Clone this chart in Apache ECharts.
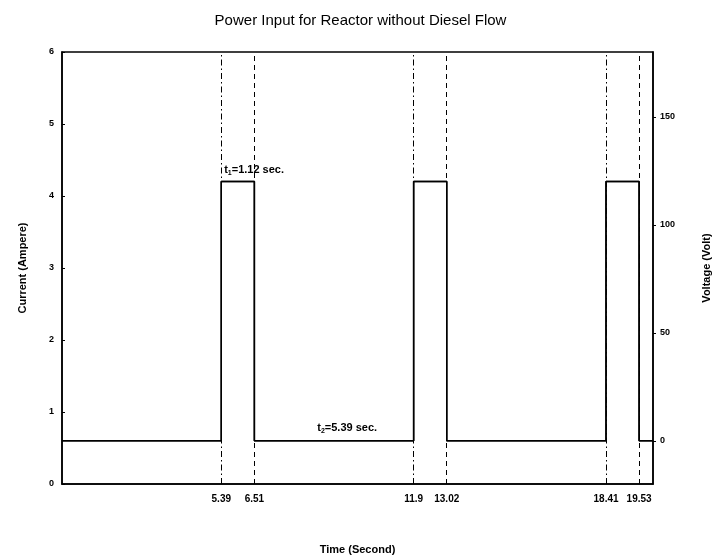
<!DOCTYPE html>
<html>
<head>
<meta charset="utf-8">
<script src="https://cdn.jsdelivr.net/npm/echarts@6/dist/echarts.min.js"></script>
<style>html,body{margin:0;padding:0;background:#fff}#c{width:721px;height:560px}</style>
</head>
<body>
<div id="c"></div>
<script>
// Data
const timePoints = [0, 5.39, 5.39, 6.51, 6.51, 11.9, 11.9, 13.02, 13.02, 18.41, 18.41, 19.53, 19.53, 20];
const currentValues = [0.6, 0.6, 4.2, 4.2, 0.6, 0.6, 4.2, 4.2, 0.6, 0.6, 4.2, 4.2, 0.6, 0.6];
const voltageValues = [0, 0, 120, 120, 0, 0, 120, 120, 0, 0, 120, 120, 0, 0];
const onTimes = [5.39, 11.9, 18.41];
const offTimes = [6.51, 13.02, 19.53];
const xTickLabels = [5.39, 6.51, 11.9, 13.02, 18.41, 19.53];
const currentTicks = [0, 1, 2, 3, 4, 5, 6];
const voltageTicks = [0, 50, 100, 150];
const annotations = [
  { name: 't1', time: 6.5, current: 4.36, text: 't{s|1}=1.12 sec.' },
  { name: 't2', time: 9.65, current: 0.78, text: 't{s|2}=5.39 sec.' }
];

const font = 'Liberation Sans, Arial, sans-serif';
const chart = echarts.init(document.getElementById('c'));

const vLines = [];
onTimes.forEach(t => vLines.push({ xAxis: t, lineStyle: { type: [6, 3, 1.5, 3], color: '#000', width: 1 } }));
offTimes.forEach(t => vLines.push({ xAxis: t, lineStyle: { type: [5, 4], color: '#000', width: 1 } }));

chart.setOption({
  animation: false,
  backgroundColor: '#fff',
  title: {
    text: 'Power Input for Reactor without Diesel Flow',
    left: 'center', top: 8,
    textStyle: { fontFamily: font, fontSize: 15, fontWeight: 'normal', color: '#000' }
  },
  grid: { left: 62, right: 68, top: 52, bottom: 73, show: true, borderColor: '#000', borderWidth: 1.5 },
  xAxis: {
    type: 'value', min: 0, max: 20,
    name: 'Time (Second)', nameLocation: 'middle', nameGap: 60,
    nameTextStyle: { fontFamily: font, fontSize: 11, fontWeight: 'bold', color: '#000' },
    axisLine: { lineStyle: { color: '#000', width: 1.5 } },
    axisTick: { show: false },
    splitLine: { show: false },
    axisLabel: { customValues: xTickLabels, fontFamily: font, fontSize: 10, fontWeight: 'bold', color: '#000', margin: 10,
      formatter: v => String(v) }
  },
  yAxis: [
    {
      type: 'value', min: 0, max: 6, interval: 1,
      name: 'Current (Ampere)', nameLocation: 'middle', nameGap: 34, nameRotate: 90,
      nameTextStyle: { fontFamily: font, fontSize: 11, fontWeight: 'bold', color: '#000' },
      axisLine: { show: true, onZero: false, lineStyle: { color: '#000', width: 1.5 } },
      axisTick: { show: true, inside: true, length: 3, lineStyle: { color: '#000' }, customValues: currentTicks },
      splitLine: { show: false },
      axisLabel: { customValues: currentTicks, fontFamily: font, fontSize: 9, fontWeight: 'bold', color: '#000', margin: 8 }
    },
    {
      type: 'value', min: -20, max: 180, position: 'right',
      name: 'Voltage (Volt)', nameLocation: 'middle', nameGap: 48, nameRotate: 90,
      nameTextStyle: { fontFamily: font, fontSize: 11, fontWeight: 'bold', color: '#000' },
      axisLine: { show: true, onZero: false, lineStyle: { color: '#000', width: 1.5 } },
      axisTick: { show: true, inside: false, length: 3, lineStyle: { color: '#000' }, customValues: voltageTicks },
      splitLine: { show: false },
      axisLabel: { customValues: voltageTicks, fontFamily: font, fontSize: 9, fontWeight: 'bold', color: '#000', margin: 7 }
    }
  ],
  series: [
    {
      name: 'Current', type: 'line', yAxisIndex: 0, symbol: 'none',
      data: timePoints.map((t, i) => [t, currentValues[i]]),
      lineStyle: { color: '#000', width: 1.5 },
      markLine: { silent: true, symbol: 'none', label: { show: false }, data: vLines },
      markPoint: {
        silent: true, symbol: 'circle', symbolSize: 0,
        data: annotations.map(a => ({
          name: a.name, coord: [a.time, a.current],
          label: { show: true, position: 'inside', formatter: a.text, fontFamily: font, fontSize: 11, fontWeight: 'bold', color: '#000',
            rich: { s: { fontSize: 7, fontWeight: 'bold', verticalAlign: 'bottom', padding: [6, 0, 0, 0], fontFamily: font } } }
        }))
      },
      z: 3
    },
    {
      name: 'Voltage', type: 'line', yAxisIndex: 1, symbol: 'none',
      data: timePoints.map((t, i) => [t, voltageValues[i]]),
      lineStyle: { color: '#000', width: 1.5 },
      z: 2
    }
  ]
});
</script>
</body>
</html>
